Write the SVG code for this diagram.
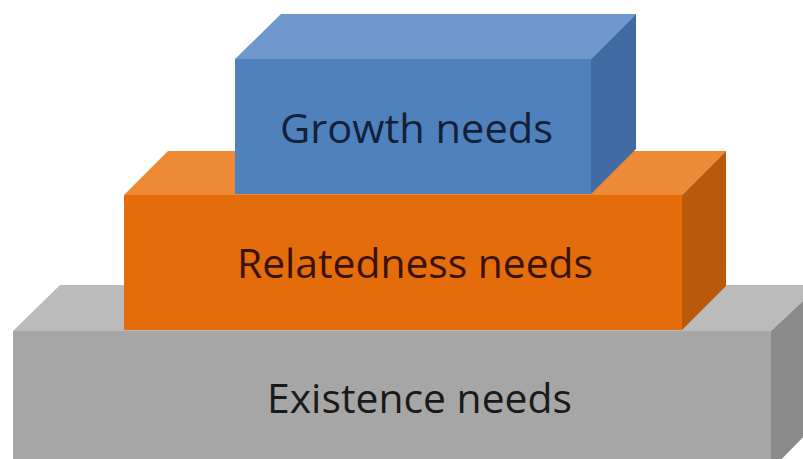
<svg xmlns="http://www.w3.org/2000/svg" width="803" height="459" viewBox="0 0 803 459">
  <style>
    .lbl { font-family: "Open Sans", "Liberation Sans", sans-serif; font-size: 41px; }
    .g-front { fill: #A6A6A6; } .g-top { fill: #BBBBBB; } .g-side { fill: #8A8A8A; }
    .o-front { fill: #E46C0A; } .o-top { fill: #EE8936; } .o-side { fill: #B9590A; }
    .b-front { fill: #4F81BD; } .b-top { fill: #7097CB; } .b-side { fill: #3F6AA2; }
  </style>
  <rect width="803" height="459" fill="#FFFFFF"/>

  <!-- bottom block -->
  <g id="existence">
    <polygon class="g-top" points="13,331 60,285 820,285 771,331"/>
    <polygon class="g-side" points="771,331 820,285 820,420 771,470"/>
    <rect class="g-front" x="13" y="331" width="758" height="140"/>
    <text class="lbl" x="267" y="413" fill="#1A1A1A" textLength="305" lengthAdjust="spacingAndGlyphs">Existence needs</text>
  </g>

  <!-- middle block -->
  <g id="relatedness">
    <polygon class="o-top" points="124,195 168,151 726,151 682,195"/>
    <polygon class="o-side" points="682,195 726,151 726,286 682,330"/>
    <rect class="o-front" x="124" y="195" width="558" height="135"/>
    <text class="lbl" x="237" y="278" fill="#3A1206" textLength="356" lengthAdjust="spacingAndGlyphs">Relatedness needs</text>
  </g>

  <!-- top block -->
  <g id="growth">
    <polygon class="b-top" points="235,59 281,14 636,14 591,59"/>
    <polygon class="b-side" points="591,59 636,14 636,149 591,194"/>
    <rect class="b-front" x="235" y="59" width="356" height="135"/>
    <text class="lbl" x="280" y="143" fill="#142038" textLength="273" lengthAdjust="spacingAndGlyphs">Growth needs</text>
  </g>

  <g id="connectors"/>
</svg>
